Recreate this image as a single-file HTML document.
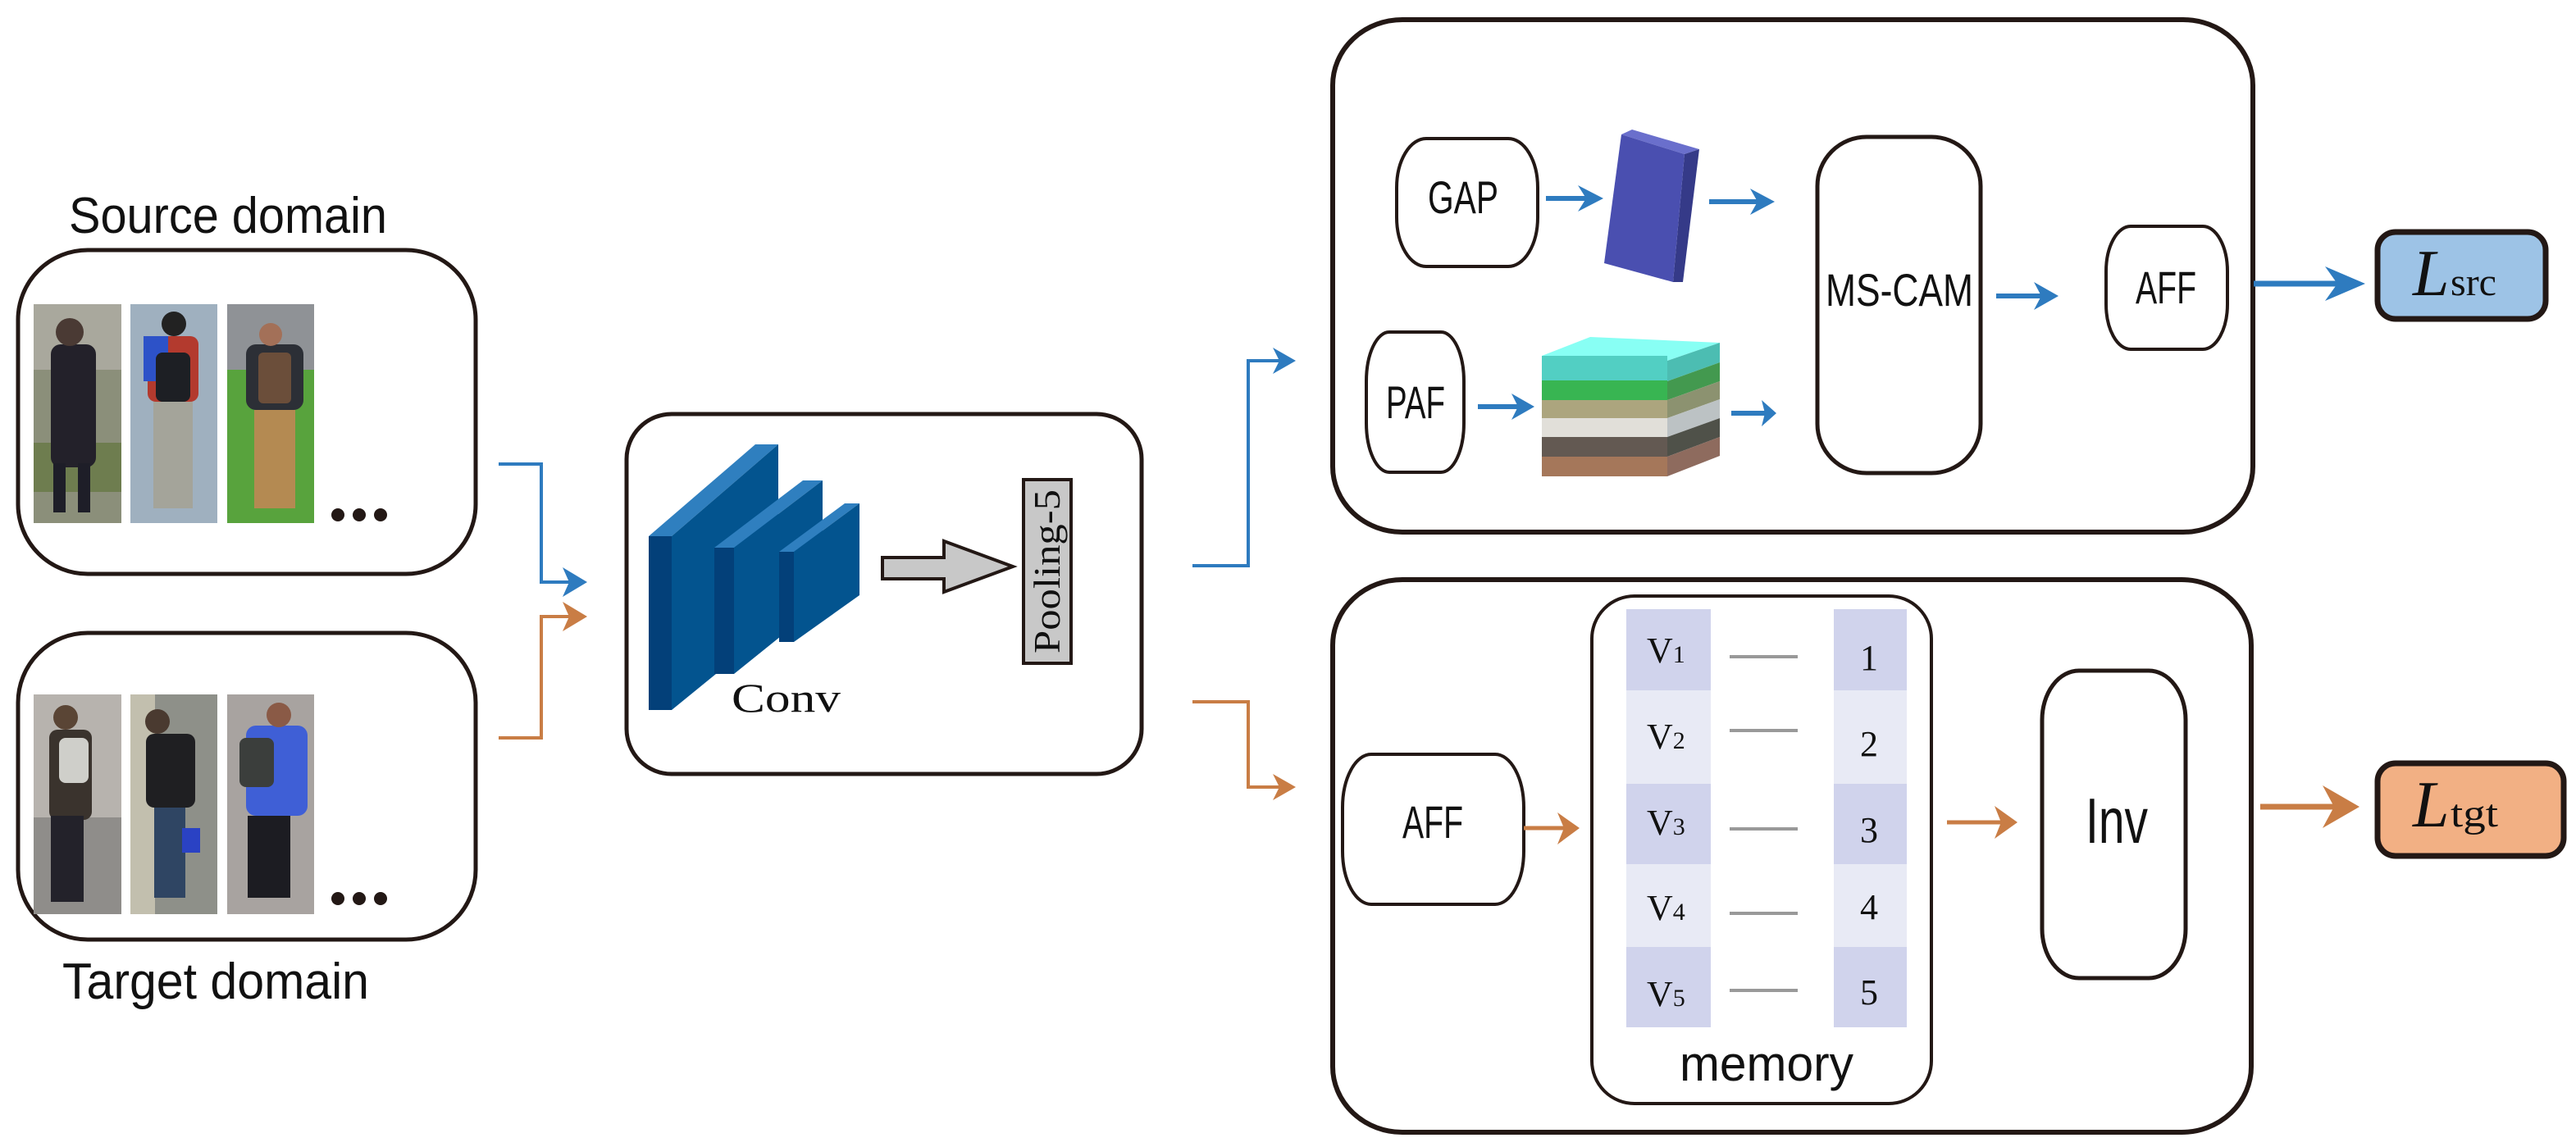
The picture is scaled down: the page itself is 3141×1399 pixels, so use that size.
<!DOCTYPE html>
<html><head><meta charset="utf-8"><style>
html,body{margin:0;padding:0;background:#fff;}
svg{display:block;}
</style></head><body>
<svg width="3141" height="1399" viewBox="0 0 3141 1399" xmlns="http://www.w3.org/2000/svg">
<rect width="3141" height="1399" fill="#fff"/>
<text x="84" y="284" font-family="Liberation Sans, sans-serif" font-size="62" textLength="388" lengthAdjust="spacingAndGlyphs" fill="#111">Source domain</text>
<text x="76" y="1218" font-family="Liberation Sans, sans-serif" font-size="62" textLength="374" lengthAdjust="spacingAndGlyphs" fill="#111">Target domain</text>

<rect x="22" y="305" width="558" height="395" rx="85" ry="85" fill="none" stroke="#231815" stroke-width="5"/>
<rect x="41" y="371" width="107" height="267" fill="#8b8f7a"/>
<rect x="41" y="371" width="107" height="80" fill="#a9a89d"/>
<rect x="41" y="540" width="107" height="60" fill="#6e7d4f"/>
<rect x="62" y="420" width="55" height="150" rx="12" fill="#23212a"/>
<circle cx="85" cy="405" r="17" fill="#4a3a34"/>
<rect x="65" y="565" width="15" height="60" fill="#1e1e28"/><rect x="95" y="565" width="15" height="60" fill="#1e1e28"/>
<rect x="159" y="371" width="106" height="267" fill="#9fb0bf"/>
<rect x="180" y="410" width="62" height="80" rx="10" fill="#b33a2e"/>
<rect x="175" y="410" width="30" height="55" fill="#2d52c8"/>
<rect x="190" y="430" width="42" height="60" rx="8" fill="#1d1f24"/>
<circle cx="212" cy="395" r="15" fill="#222"/>
<rect x="187" y="490" width="48" height="130" fill="#a4a49a"/>
<rect x="277" y="371" width="106" height="267" fill="#58a33d"/>
<rect x="277" y="371" width="106" height="80" fill="#8f9296"/>
<rect x="300" y="420" width="70" height="80" rx="12" fill="#2c2f36"/>
<rect x="315" y="430" width="40" height="62" rx="6" fill="#6b4e3a"/>
<circle cx="330" cy="408" r="14" fill="#a37058"/>
<rect x="310" y="500" width="50" height="120" fill="#b48a52"/>
<circle cx="412" cy="628" r="8" fill="#231815"/><circle cx="438" cy="628" r="8" fill="#231815"/><circle cx="464" cy="628" r="8" fill="#231815"/>

<rect x="22" y="772" width="558" height="374" rx="85" ry="85" fill="none" stroke="#231815" stroke-width="5"/>
<rect x="41" y="847" width="107" height="268" fill="#8f8d8a"/>
<rect x="41" y="847" width="107" height="150" fill="#b7b3ae"/>
<rect x="60" y="890" width="52" height="110" rx="10" fill="#3a332d"/>
<rect x="72" y="900" width="36" height="55" rx="8" fill="#cfcfca"/>
<circle cx="80" cy="875" r="15" fill="#5a4535"/>
<rect x="62" y="995" width="40" height="105" fill="#23222a"/>
<rect x="159" y="847" width="106" height="268" fill="#8e9089"/>
<rect x="159" y="847" width="30" height="268" fill="#c2bfae"/>
<rect x="178" y="895" width="60" height="90" rx="10" fill="#1f1f22"/>
<circle cx="192" cy="880" r="15" fill="#4a3a30"/>
<rect x="188" y="985" width="38" height="110" fill="#2f4563"/>
<rect x="222" y="1010" width="22" height="30" fill="#2a42c4"/>
<rect x="277" y="847" width="106" height="268" fill="#a8a3a0"/>
<rect x="300" y="885" width="75" height="110" rx="12" fill="#3f5fd6"/>
<rect x="292" y="900" width="42" height="60" rx="8" fill="#3b3e3c"/>
<circle cx="340" cy="872" r="15" fill="#8a5a46"/>
<rect x="302" y="995" width="52" height="100" fill="#1c1c22"/>
<circle cx="412" cy="1096" r="8" fill="#231815"/><circle cx="438" cy="1096" r="8" fill="#231815"/><circle cx="464" cy="1096" r="8" fill="#231815"/>

<polyline points="608,566 660,566 660,710 698,710" fill="none" stroke="#2e7bbf" stroke-width="4"/>
<polygon points="716,710 686,692 694,710 686,728" fill="#2e7bbf"/>
<polyline points="608,900 660,900 660,752 698,752" fill="none" stroke="#c97d45" stroke-width="4"/>
<polygon points="716,752 686,734 694,752 686,770" fill="#c97d45"/>

<rect x="764" y="505" width="628" height="439" rx="55" ry="55" fill="none" stroke="#231815" stroke-width="5"/>
<polygon points="791,654 819,654 949,542 921,542" fill="#2f7fbf"/>
<polygon points="819,654 949,542 949,760 819,866" fill="#03548f"/>
<rect x="791" y="654" width="28" height="212" fill="#034079"/>
<polygon points="871,668 895,668 1003,586 979,586" fill="#2f7fbf"/>
<polygon points="895,668 1003,586 1003,735 895,822" fill="#03548f"/>
<rect x="871" y="668" width="24" height="154" fill="#034079"/>
<polygon points="950,673 968,673 1048,614 1030,614" fill="#2f7fbf"/>
<polygon points="968,673 1048,614 1048,726 968,783" fill="#03548f"/>
<rect x="950" y="673" width="18" height="110" fill="#034079"/>
<text x="892" y="868" font-family="Liberation Serif, serif" font-size="50" textLength="133" lengthAdjust="spacingAndGlyphs" fill="#111">Conv</text>
<polygon points="1076,680 1151,680 1151,660 1235,691 1151,722 1151,706 1076,706" fill="#c8c8c8" stroke="#231815" stroke-width="4"/>
<rect x="1248" y="585" width="58" height="224" fill="#c8c8c8" stroke="#231815" stroke-width="4"/>
<text transform="translate(1292,797) rotate(-90)" font-family="Liberation Serif, serif" font-size="46" textLength="200" lengthAdjust="spacingAndGlyphs" fill="#111">Pooling-5</text>

<polyline points="1454,690 1522,690 1522,440 1562,440" fill="none" stroke="#2e7bbf" stroke-width="4"/>
<polygon points="1580,440 1552,424 1560,440 1552,456" fill="#2e7bbf"/>
<polyline points="1454,856 1522,856 1522,960 1562,960" fill="none" stroke="#c97d45" stroke-width="4"/>
<polygon points="1580,960 1552,944 1560,960 1552,976" fill="#c97d45"/>

<rect x="1625" y="24" width="1122" height="625" rx="85" ry="80" fill="none" stroke="#231815" stroke-width="6"/>
<rect x="1703" y="169" width="172" height="156" rx="36" ry="60" fill="none" stroke="#231815" stroke-width="4"/>
<text x="1784" y="260" text-anchor="middle" font-family="Liberation Sans, sans-serif" font-size="56" textLength="86" lengthAdjust="spacingAndGlyphs" fill="#111">GAP</text>
<line x1="1885" y1="242" x2="1940" y2="242" stroke="#2e7bbf" stroke-width="6"/>
<polygon points="1955,242 1924,226 1934,242 1924,258" fill="#2e7bbf"/>
<polygon points="1977,164 1990,158 2072,182 2054,188" fill="#6a6fcc"/>
<polygon points="2054,188 2072,182 2052,344 2040,344" fill="#353a88"/>
<polygon points="1977,164 2054,188 2040,344 1956,321" fill="#4a4fb0"/>
<line x1="2084" y1="246" x2="2150" y2="246" stroke="#2e7bbf" stroke-width="6"/>
<polygon points="2164,246 2134,230 2143,246 2134,262" fill="#2e7bbf"/>

<rect x="1666" y="405" width="119" height="171" rx="28" ry="60" fill="none" stroke="#231815" stroke-width="4"/>
<text x="1726" y="510" text-anchor="middle" font-family="Liberation Sans, sans-serif" font-size="56" textLength="72" lengthAdjust="spacingAndGlyphs" fill="#111">PAF</text>
<line x1="1802" y1="496" x2="1858" y2="496" stroke="#2e7bbf" stroke-width="6"/>
<polygon points="1871,496 1843,480 1851,496 1843,512" fill="#2e7bbf"/>
<polygon points="1880,434 1939,411 2097,418 2033,440" fill="#88fff4"/>
<polygon points="2033,440 2097,418 2097,442 2033,465" fill="#4cbdb2"/>
<polygon points="2033,465 2097,442 2097,465 2033,488" fill="#43994f"/>
<polygon points="2033,488 2097,465 2097,487 2033,510" fill="#8c9270"/>
<polygon points="2033,510 2097,487 2097,510 2033,533" fill="#bcc2c4"/>
<polygon points="2033,533 2097,510 2097,533 2033,557" fill="#4f5149"/>
<polygon points="2033,557 2097,533 2097,556 2033,581" fill="#8e6b5e"/>
<rect x="1880" y="434" width="153" height="30" fill="#52cfc3"/>
<rect x="1880" y="464" width="153" height="24" fill="#38b552"/>
<rect x="1880" y="488" width="153" height="22" fill="#aca57e"/>
<rect x="1880" y="510" width="153" height="23" fill="#e1dfd9"/>
<rect x="1880" y="533" width="153" height="24" fill="#635952"/>
<rect x="1880" y="557" width="153" height="24" fill="#a5775a"/>
<line x1="2111" y1="504" x2="2155" y2="504" stroke="#2e7bbf" stroke-width="6"/>
<polygon points="2166,504 2148,488 2152,504 2148,520" fill="#2e7bbf"/>

<rect x="2216" y="167" width="199" height="410" rx="60" ry="60" fill="none" stroke="#231815" stroke-width="5"/>
<text x="2316" y="373" text-anchor="middle" font-family="Liberation Sans, sans-serif" font-size="56" textLength="180" lengthAdjust="spacingAndGlyphs" fill="#111">MS-CAM</text>
<line x1="2434" y1="361" x2="2494" y2="361" stroke="#2e7bbf" stroke-width="6"/>
<polygon points="2510,361 2480,344 2489,361 2480,378" fill="#2e7bbf"/>
<rect x="2568" y="276" width="148" height="150" rx="30" ry="55" fill="none" stroke="#231815" stroke-width="4"/>
<text x="2641" y="370" text-anchor="middle" font-family="Liberation Sans, sans-serif" font-size="56" textLength="74" lengthAdjust="spacingAndGlyphs" fill="#111">AFF</text>
<line x1="2748" y1="346" x2="2860" y2="346" stroke="#2e7bbf" stroke-width="7"/>
<polygon points="2884,346 2835,325 2850,346 2835,367" fill="#2e7bbf"/>
<rect x="2899" y="283" width="205" height="106" rx="22" ry="22" fill="#9dc3e6" stroke="#231815" stroke-width="7"/>
<text x="2942" y="360" font-family="Liberation Serif, serif" font-size="80" font-style="italic" fill="#111">L</text>
<text x="2988" y="360" font-family="Liberation Serif, serif" font-size="48" textLength="56" lengthAdjust="spacingAndGlyphs" fill="#111">src</text>

<rect x="1625" y="707" width="1120" height="674" rx="85" ry="80" fill="none" stroke="#231815" stroke-width="6"/>
<rect x="1637" y="920" width="221" height="183" rx="35" ry="65" fill="none" stroke="#231815" stroke-width="4"/>
<text x="1747" y="1022" text-anchor="middle" font-family="Liberation Sans, sans-serif" font-size="56" textLength="74" lengthAdjust="spacingAndGlyphs" fill="#111">AFF</text>
<line x1="1858" y1="1010" x2="1912" y2="1010" stroke="#c97d45" stroke-width="5"/>
<polygon points="1926,1010 1899,991 1907,1010 1899,1030" fill="#c97d45"/>
<rect x="1941" y="727" width="414" height="619" rx="52" ry="52" fill="none" stroke="#231815" stroke-width="4"/>
<rect x="1983" y="743" width="103" height="99" fill="#d0d3ec"/><rect x="2236" y="743" width="89" height="99" fill="#d0d3ec"/>
<rect x="1983" y="842" width="103" height="114" fill="#e8eaf5"/><rect x="2236" y="842" width="89" height="114" fill="#e8eaf5"/>
<rect x="1983" y="956" width="103" height="98" fill="#d0d3ec"/><rect x="2236" y="956" width="89" height="98" fill="#d0d3ec"/>
<rect x="1983" y="1054" width="103" height="101" fill="#e8eaf5"/><rect x="2236" y="1054" width="89" height="101" fill="#e8eaf5"/>
<rect x="1983" y="1155" width="103" height="98" fill="#d0d3ec"/><rect x="2236" y="1155" width="89" height="98" fill="#d0d3ec"/>
<g stroke="#999" stroke-width="4">
<line x1="2109" y1="801" x2="2192" y2="801"/><line x1="2109" y1="891" x2="2192" y2="891"/>
<line x1="2109" y1="1011" x2="2192" y2="1011"/><line x1="2109" y1="1114" x2="2192" y2="1114"/>
<line x1="2109" y1="1208" x2="2192" y2="1208"/></g>
<g font-family="Liberation Serif, serif" fill="#111">
<text x="2008" y="808" font-size="44">V<tspan font-size="30">1</tspan></text>
<text x="2008" y="913" font-size="44">V<tspan font-size="30">2</tspan></text>
<text x="2008" y="1018" font-size="44">V<tspan font-size="30">3</tspan></text>
<text x="2008" y="1122" font-size="44">V<tspan font-size="30">4</tspan></text>
<text x="2008" y="1227" font-size="44">V<tspan font-size="30">5</tspan></text>
<g font-size="44" text-anchor="middle">
<text x="2279" y="817">1</text><text x="2279" y="922">2</text><text x="2279" y="1027">3</text><text x="2279" y="1121">4</text><text x="2279" y="1225">5</text></g>
</g>
<text x="2154" y="1318" text-anchor="middle" font-family="Liberation Sans, sans-serif" font-size="60" textLength="212" lengthAdjust="spacingAndGlyphs" fill="#111">memory</text>
<line x1="2374" y1="1003" x2="2444" y2="1003" stroke="#c97d45" stroke-width="5"/>
<polygon points="2460,1003 2432,983 2440,1003 2432,1023" fill="#c97d45"/>
<rect x="2490" y="818" width="175" height="375" rx="45" ry="60" fill="none" stroke="#231815" stroke-width="5"/>
<text x="2581" y="1028" text-anchor="middle" font-family="Liberation Sans, sans-serif" font-size="78" textLength="76" lengthAdjust="spacingAndGlyphs" fill="#111">Inv</text>
<line x1="2756" y1="984" x2="2860" y2="984" stroke="#c97d45" stroke-width="7"/>
<polygon points="2877,984 2832,958 2846,984 2832,1010" fill="#c97d45"/>
<rect x="2899" y="931" width="227" height="113" rx="22" ry="22" fill="#f2b084" stroke="#231815" stroke-width="7"/>
<text x="2942" y="1008" font-family="Liberation Serif, serif" font-size="80" font-style="italic" fill="#111">L</text>
<text x="2988" y="1008" font-family="Liberation Serif, serif" font-size="48" textLength="58" lengthAdjust="spacingAndGlyphs" fill="#111">tgt</text>
</svg>
</body></html>
